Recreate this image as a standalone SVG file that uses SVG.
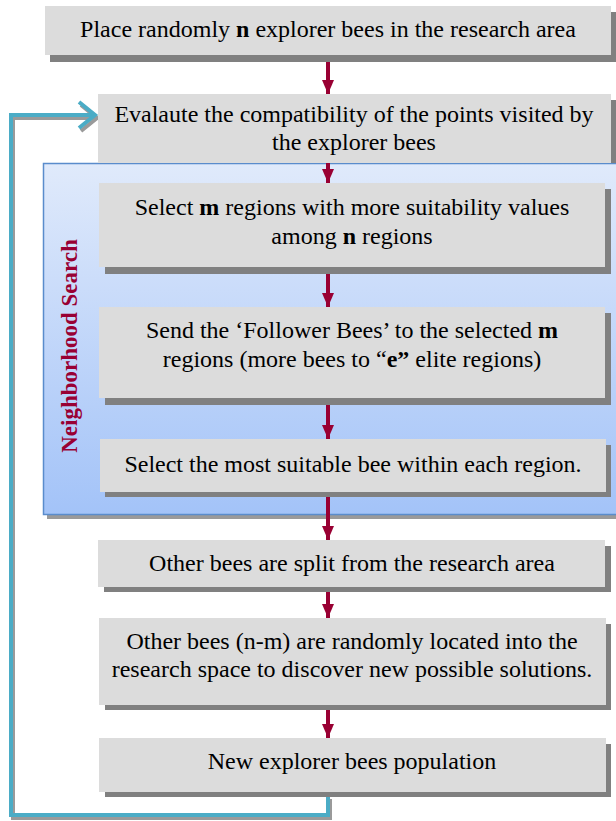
<svg xmlns="http://www.w3.org/2000/svg" width="616" height="821" viewBox="0 0 616 821">
<defs>
<linearGradient id="nsg" x1="0" y1="0" x2="0" y2="1">
<stop offset="0" stop-color="#e0eafb"/>
<stop offset="1" stop-color="#a3c3f8"/>
</linearGradient>
<marker id="ah" viewBox="0 0 14 12" refX="14" refY="6" markerWidth="14" markerHeight="12" markerUnits="userSpaceOnUse" orient="auto">
<path d="M0,0 L14,6 L0,12 Z" fill="#990033"/>
</marker>
</defs>
<style>
.box{fill:#dcdcdc}
.sh{fill:#808080}
.t{font-family:"Liberation Serif","Times New Roman",serif;font-size:24px;fill:#000;text-anchor:middle}
.b{font-weight:bold}
.ar{stroke:#990033;stroke-width:4;fill:none;marker-end:url(#ah)}
.loop{stroke:#4bacc6;stroke-width:4;fill:none;stroke-linejoin:miter}
.loopsh{stroke:#9a9a9a;stroke-width:4;fill:none}
</style>
<rect width="616" height="821" fill="#fff"/>

<g id="loop">
<polyline class="loopsh" points="330,799 330,818 13,818 13,118 95,118"/>
<polyline class="loopsh" points="81,105 97,118 81,131" stroke-width="5"/>
<polyline class="loop" points="328,797 328,815 11,815 11,115 93,115"/>
<polyline class="loop" points="79,102 95,115 79,128" stroke-width="5"/>
</g>

<g id="neighborhood">
<rect x="47" y="167" width="575" height="352" fill="#9a9a9a"/>
<rect x="43.5" y="163.5" width="580" height="351" fill="url(#nsg)" stroke="#5a8ccc" stroke-width="1.5"/>
<text transform="translate(77,346) rotate(-90)" font-family="'Liberation Serif','Times New Roman',serif" font-size="23" font-weight="bold" fill="#990033" text-anchor="middle">Neighborhood Search</text>
</g>

<g id="n1">
<rect class="sh" x="50" y="12" width="566" height="50"/>
<rect class="box" x="45" y="6" width="566" height="49"/>
<text class="t" x="328" y="37">Place randomly <tspan class="b">n</tspan> explorer bees in the research area</text>
</g>

<g id="n2">
<rect class="sh" x="104" y="100" width="512" height="63"/>
<rect class="box" x="98" y="94" width="513" height="69"/>
<text class="t" x="354" y="122">Evalaute the compatibility of the points visited by</text>
<text class="t" x="354" y="150">the explorer bees</text>
</g>

<g id="n3">
<rect class="sh" x="105" y="189" width="506" height="85"/>
<rect class="box" x="99" y="183" width="506" height="84"/>
<text class="t" x="352" y="215">Select <tspan class="b">m</tspan> regions with more suitability values</text>
<text class="t" x="352" y="244">among <tspan class="b">n</tspan> regions</text>
</g>

<g id="n4">
<rect class="sh" x="105" y="313" width="506" height="92"/>
<rect class="box" x="99" y="307" width="506" height="91"/>
<text class="t" x="352" y="338">Send the ‘Follower Bees’ to the selected <tspan class="b">m</tspan></text>
<text class="t" x="352" y="367">regions (more bees to “<tspan class="b">e”</tspan> elite regions)</text>
</g>

<g id="n5">
<rect class="sh" x="105" y="445" width="506" height="52"/>
<rect class="box" x="100" y="439" width="506" height="53"/>
<text class="t" x="353" y="472">Select the most suitable bee within each region.</text>
</g>

<g id="n6">
<rect class="sh" x="104" y="546" width="507" height="46"/>
<rect class="box" x="98" y="540" width="507" height="47"/>
<text class="t" x="352" y="571">Other bees are split from the research area</text>
</g>

<g id="n7">
<rect class="sh" x="105" y="624" width="506" height="86"/>
<rect class="box" x="99" y="618" width="507" height="87"/>
<text class="t" x="352" y="649">Other bees (n-m) are randomly located into the</text>
<text class="t" x="352" y="677">research space to discover new possible solutions.</text>
</g>

<g id="n8">
<rect class="sh" x="105" y="744" width="506" height="53"/>
<rect class="box" x="99" y="738" width="507" height="54"/>
<text class="t" x="352" y="769">New explorer bees population</text>
</g>

<g id="connectors">
<line class="ar" x1="328" y1="62" x2="328" y2="94"/>
<line class="ar" x1="328" y1="163" x2="328" y2="183"/>
<line class="ar" x1="328" y1="274" x2="328" y2="307"/>
<line class="ar" x1="328" y1="405" x2="328" y2="439"/>
<line class="ar" x1="328" y1="497" x2="328" y2="540"/>
<line class="ar" x1="328" y1="592" x2="328" y2="618"/>
<line class="ar" x1="328" y1="710" x2="328" y2="738"/>
</g>
</svg>
